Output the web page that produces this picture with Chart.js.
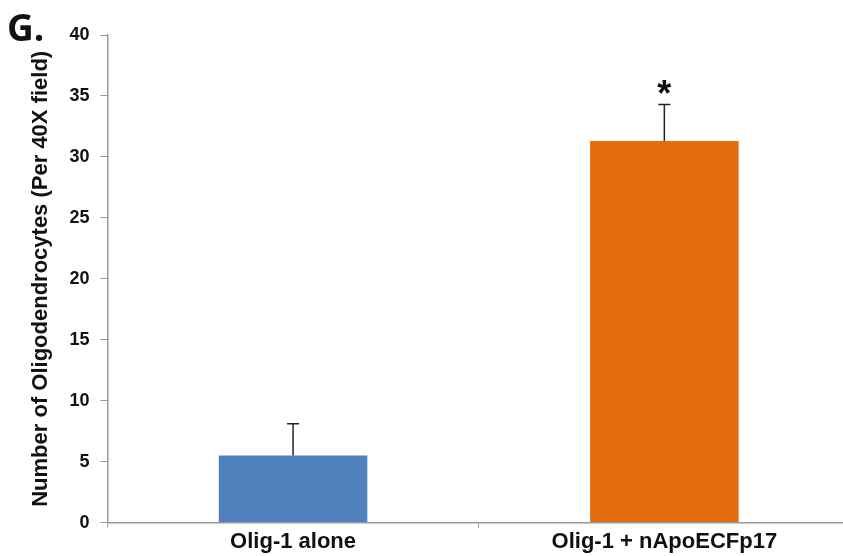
<!DOCTYPE html>
<html>
<head>
<meta charset="utf-8">
<script src="https://cdn.jsdelivr.net/npm/chart.js@4"></script>
<style>
  html, body { margin: 0; padding: 0; background: #fff; overflow: hidden; }
  #wrap { position: relative; width: 850px; height: 556px; }
  #panel { position: absolute; left: 7px; top: 1px; font: bold 37px "Open Sans", "Liberation Sans", sans-serif; color: #111; }
</style>
</head>
<body>
<div id="wrap">
  <canvas id="barCanvas" width="850" height="556"></canvas>
  <div id="panel">G.</div>
</div>
<script>
const categories = ["Olig-1 alone", "Olig-1 + nApoECFp17"];
const means = [5.5, 31.3];
const errors = [2.6, 3.0];
const marks = ["", "*"];
const yTicks = [0, 5, 10, 15, 20, 25, 30, 35, 40];

// error whiskers and significance marks, placed through the y scale
const errorBars = {
    id: "errorBars",
    afterDatasetsDraw(chart) {
        const ctx = chart.ctx;
        const meta = chart.getDatasetMeta(0);
        const y = chart.scales.y;
        ctx.save();
        ctx.strokeStyle = "#222";
        ctx.lineWidth = 1.5;
        meta.data.forEach((bar, i) => {
            const top = y.getPixelForValue(means[i] + errors[i]);
            const base = y.getPixelForValue(means[i]);
            ctx.beginPath();
            ctx.moveTo(bar.x, base);
            ctx.lineTo(bar.x, top);
            ctx.moveTo(bar.x - 6, top);
            ctx.lineTo(bar.x + 6, top);
            ctx.stroke();
            if (marks[i]) {
                ctx.fillStyle = "#111";
                ctx.font = "bold 36px 'Liberation Sans', Arial, sans-serif";
                ctx.textAlign = "center";
                ctx.textBaseline = "bottom";
                ctx.fillText(marks[i], bar.x, top + 10);
            }
        });
        ctx.restore();
    }
};

new Chart(document.getElementById("barCanvas"), {
    type: "bar",
    data: {
        labels: categories,
        datasets: [{
            data: means,
            backgroundColor: ["#4f81bd", "#e46c0a"],
            barPercentage: 0.4,
            categoryPercentage: 1
        }]
    },
    options: {
        responsive: false,
        animation: false,
        layout: { padding: { top: 35, right: 0, left: 28, bottom: 0 } },
        plugins: {
            legend: { display: false },
            tooltip: { enabled: false }
        },
        scales: {
            x: {
                grid: { drawOnChartArea: false, color: "#999", tickLength: 5, offset: true },
                border: { color: "#999", width: 1.5 },
                ticks: {
                    color: "#111",
                    font: { family: "'Liberation Sans', Arial, sans-serif", size: 22, weight: "bold" },
                    padding: 1
                }
            },
            y: {
                min: 0,
                max: 40,
                afterBuildTicks: (axis) => { axis.ticks = yTicks.map(v => ({ value: v })); },
                grid: { drawOnChartArea: false, color: "#999", tickLength: 7 },
                border: { color: "#999", width: 1.5 },
                ticks: {
                    color: "#111",
                    font: { family: "'Liberation Sans', Arial, sans-serif", size: 18, weight: "bold" },
                    padding: 11
                },
                title: {
                    display: true,
                    text: "Number of Oligodendrocytes (Per 40X field)",
                    color: "#111",
                    font: { family: "'Liberation Sans', Arial, sans-serif", size: 22, weight: "bold" },
                    padding: { top: 0, bottom: 4 }
                }
            }
        }
    },
    plugins: [errorBars]
});
</script>
</body>
</html>
